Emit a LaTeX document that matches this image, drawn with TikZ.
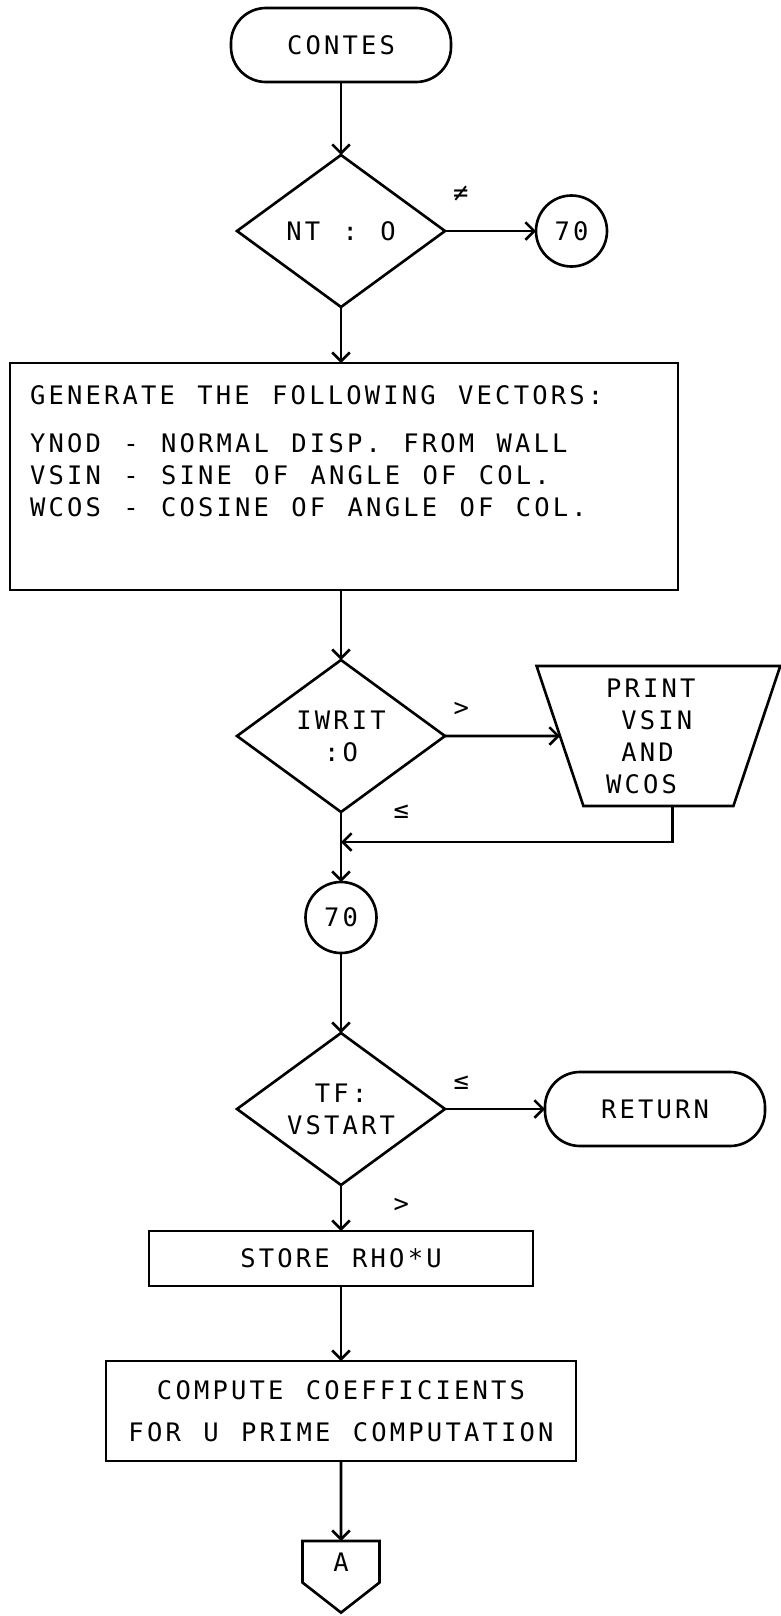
\documentclass[tikz,border=0pt]{standalone}
\usepackage{fontspec}
\newfontfamily\twfont[LetterSpace=12.5, WordSpace=1.21]{DejaVu Sans Mono}
\newcommand{\chartfont}{\twfont\fontsize{14.5pt}{18.2pt}\selectfont}
\usetikzlibrary{arrows.meta, positioning, shapes.geometric, shapes.symbols}

\begin{document}
\begin{tikzpicture}[
    line width=1.5pt,
    every node/.style={outer sep=0pt},
    terminal/.style={rectangle, draw, rounded corners=0.7cm, minimum width=4.4cm, minimum height=1.48cm, font=\chartfont},
    decision/.style={diamond, draw, aspect=1.37, minimum width=4.16cm, minimum height=3.04cm, inner sep=0pt, align=center, font=\chartfont},
    box/.style={rectangle, draw, inner sep=0pt, align=center, font=\chartfont},
    boxtext/.style={inner sep=0pt, align=left, font=\chartfont},
    connector/.style={circle, draw, minimum size=1.42cm, inner sep=0pt, font=\chartfont},
    display/.style={trapezium, draw, shape border rotate=180, trapezium left angle=74, trapezium right angle=74, trapezium stretches=true, minimum width=4.88cm, minimum height=2.8cm, inner sep=2pt, align=left, font=\chartfont},
    offpage/.style={signal, draw, signal to=south, signal pointer angle=104, minimum width=1.54cm, minimum height=0.95cm, inner sep=0pt, font=\chartfont},
    cond/.style={inner sep=0pt, font=\chartfont},
    arrow/.style={-{Straight Barb[length=5pt,width=10pt]}}
  ]
  \useasboundingbox (0,0) rectangle (15.62,-32.32);

  \node[terminal] (contes) at (6.82,-0.9) {CONTES};
  \node[decision, below=1.46cm of contes] (nt) {NT : O};
  \node[connector, right=1.82cm of nt] (goto70) {70};
  \node[box, minimum width=13.36cm, minimum height=4.54cm, below=1.12cm of nt, xshift=0.06cm] (gen) {};
  \node[boxtext, below right=0.46cm and 0.4cm of gen.north west] (vectors) {GENERATE THE FOLLOWING VECTORS:\\[0.32cm]
    YNOD - NORMAL DISP. FROM WALL\\
    VSIN - SINE OF ANGLE OF COL.\\
    WCOS - COSINE OF ANGLE OF COL.};
  \node[decision, below=1.4cm of gen, xshift=-0.06cm] (iwrit) {IWRIT\\:O};
  \node[display, right=2.3cm of iwrit] (print) {PRINT\hphantom{X}\\ \hphantom{X}VSIN\\ \hphantom{X}AND\\WCOS};
  \coordinate[below=0.6cm of iwrit.south] (merge);
  \node[connector, below=1.4cm of iwrit] (at70) {70};
  \node[decision, below=1.6cm of at70] (tf) {TF:\\VSTART};
  \node[terminal, right=2.0cm of tf] (ret) {RETURN};
  \node[box, minimum width=7.68cm, minimum height=1.1cm, below=0.92cm of tf] (store) {STORE RHO*U};
  \node[box, minimum width=9.4cm, minimum height=2cm, below=1.5cm of store] (comp) {COMPUTE COEFFICIENTS\\[0.2cm]FOR U PRIME COMPUTATION};
  \node[offpage, below=1.6cm of comp] (toA) {A};

  % branch marks
  \node[cond, above right=0.6cm and 0.16cm of nt.east] (ntne) {≠};
  \node[cond, above right=0.39cm and 0.17cm of iwrit.east] (iwgt) {>};
  \node[cond, right=1.05cm of iwrit.south] (iwle) {≤};
  \node[cond, above right=0.39cm and 0.17cm of tf.east] (tfle) {≤};
  \node[cond, below right=0.27cm and 1.05cm of tf.south] (tfgt) {>};

  \draw[arrow] (contes) -- (nt);
  \draw[arrow] (nt) -- (goto70);
  \draw[arrow] (nt) -- (nt |- gen.north);
  \draw[arrow] (gen.south -| iwrit) -- (iwrit);
  \draw[arrow] (iwrit) -- (print);
  \draw[arrow] ([xshift=0.28cm]print.south) |- (merge);
  \draw[arrow] (iwrit) -- (at70);
  \draw[arrow] (at70) -- (tf);
  \draw[arrow] (tf) -- (ret);
  \draw[arrow] (tf) -- (store);
  \draw[arrow] (store) -- (comp);
  \draw[arrow] (comp) -- (toA);
\end{tikzpicture}
\end{document}
